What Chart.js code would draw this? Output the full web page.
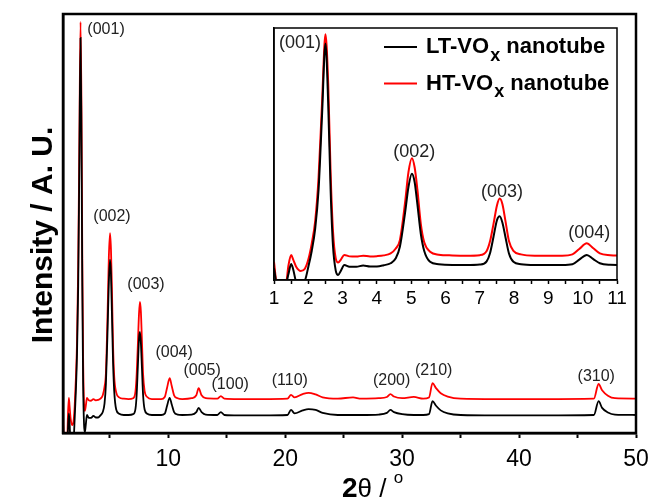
<!DOCTYPE html>
<html>
<head>
<meta charset="utf-8">
<script src="https://cdn.jsdelivr.net/npm/chart.js@4"></script>
<style>
  body { margin: 0; background: #fff; }
  #wrap { position: relative; width: 652px; height: 502px; }
  #inset { position: absolute; left: 255px; top: 15px; }
</style>
</head>
<body>
<div id="wrap">
  <canvas id="main" width="652" height="502"></canvas>
  <canvas id="inset" width="380" height="300"></canvas>
</div>
<script>
// 2theta (deg) and intensity (a.u.), HT curve includes its vertical offset
const twoTheta = [1.00, 1.08, 1.35, 1.42, 1.50, 1.56, 1.65, 1.78, 1.90, 2.00, 2.10, 2.20, 2.30, 2.40, 2.50, 2.58, 2.65, 2.72, 2.80, 2.87,
  2.95, 3.05, 3.20, 3.40, 3.60, 3.80, 4.00, 4.20, 4.40, 4.55, 4.67, 4.82, 4.92, 5.02, 5.10, 5.18, 5.28, 5.38, 5.55, 5.80,
  6.20, 6.60, 7.00, 7.20, 7.30, 7.40, 7.50, 7.58, 7.66, 7.75, 7.85, 7.98, 8.20, 8.60, 9.00, 9.40, 9.70, 9.90, 10.12, 10.30,
  10.50, 10.80, 11.20, 12.00, 12.40, 12.60, 12.85, 13.20, 14.20, 14.50, 14.80, 16.00, 18.00, 20.20, 20.50, 20.80, 21.50, 22.00, 22.60, 23.20,
  24.50, 25.80, 26.50, 28.00, 28.70, 29.00, 29.30, 30.00, 31.00, 31.80, 32.30, 32.60, 32.90, 33.30, 33.90, 35.00, 38.00, 42.00, 46.40, 46.80,
  47.10, 47.60, 48.20, 50.00];
const ltVox = [3.0, -3, -3, 0.5, 4.7, 2.5, -2.5, -3, -2, 3.5, 10, 19, 35, 65, 94.3, 70, 35, 12, 2, 0.2,
  2, 4.3, 3.6, 3.6, 4.1, 3.7, 3.7, 4.2, 5.0, 7.0, 11.7, 25.4, 36, 41.4, 38, 29, 17, 10, 5.6, 4.6,
  4.3, 4.3, 4.5, 5.8, 9.2, 15.8, 22.5, 24.1, 21.5, 15.5, 9.0, 5.6, 4.6, 4.3, 4.3, 4.3, 4.6, 6.5, 8.4, 6.8,
  5.0, 4.4, 4.3, 4.4, 5.0, 6.0, 5.0, 4.4, 4.3, 5.0, 4.3, 4.2, 4.2, 4.3, 5.5, 4.7, 5.4, 5.7, 5.5, 4.8,
  4.3, 4.3, 4.3, 4.4, 4.8, 5.5, 5.0, 4.5, 4.3, 4.3, 4.5, 7.6, 6.5, 5.4, 4.7, 4.3, 4.2, 4.2, 4.3, 7.6,
  6.0, 4.9, 4.4, 4.3];
const htVox = [5.6, -3, -3, 4.0, 8.4, 6.5, 3.5, 1.9, 2.8, 6.5, 13, 22, 40, 70, 98.1, 78, 42, 18, 7, 5.3,
  6.5, 8.4, 7.8, 7.7, 8.1, 7.8, 7.9, 8.2, 9.0, 11.0, 14.4, 29.5, 42, 47.7, 44, 35, 21, 13.5, 9.7, 8.5,
  8.2, 8.1, 8.3, 10, 14, 21, 28.5, 31.3, 29, 22, 14, 10, 8.6, 8.1, 8.1, 8.1, 8.6, 10.8, 13.1, 11.2,
  9.0, 8.3, 8.1, 8.3, 9.0, 10.7, 9.0, 8.3, 8.2, 8.8, 8.2, 8.1, 8.1, 8.2, 9.1, 8.5, 9.3, 9.6, 9.2, 8.5,
  8.2, 8.5, 8.2, 8.3, 8.6, 9.3, 8.7, 8.3, 8.6, 8.2, 8.5, 11.9, 10.7, 9.5, 8.7, 8.2, 8.1, 8.1, 8.2, 11.7,
  10.2, 8.9, 8.3, 8.2];

const mainTicks = [5, 10, 15, 20, 25, 30, 35, 40, 45, 50];
const insetTicks = [1, 1.5, 2, 2.5, 3, 3.5, 4, 4.5, 5, 5.5, 6, 6.5, 7, 7.5, 8, 8.5, 9, 9.5, 10, 10.5, 11];

const mainPeakNames = ["(001)", "(002)", "(003)", "(004)", "(005)", "(100)", "(110)", "(200)", "(210)", "(310)"];
const mainPeakX = [4.68, 5.19, 8.10, 10.5, 12.9, 15.3, 20.4, 29.1, 32.7, 46.6];
const mainPeakY = [96.2, 51.6, 35.3, 19.1, 14.8, 11.5, 12.6, 12.6, 14.8, 13.4];
const insetPeakNames = ["(001)", "(002)", "(003)", "(004)"];
const insetPeakX = [1.76, 5.09, 7.65, 10.19];
const insetPeakY = [94.5, 50.2, 34.0, 17.3];

const FONT = "'Liberation Sans', Arial, sans-serif";

function points(ys) {
  return twoTheta.map((x, i) => ({ x: x, y: ys[i] }));
}

function datasets(width) {
  return [
    { label: "LT-VOx nanotube", data: points(ltVox), borderColor: "#000", borderWidth: width, pointRadius: 0,
      cubicInterpolationMode: "monotone", tension: 0.4 },
    { label: "HT-VOx nanotube", data: points(htVox), borderColor: "#f00", borderWidth: width, pointRadius: 0,
      cubicInterpolationMode: "monotone", tension: 0.4 }
  ];
}

const frame = {
  id: "frame",
  afterDraw(chart, args, opts) {
    const a = chart.chartArea;
    const ctx = chart.ctx;
    ctx.save();
    ctx.strokeStyle = "#000";
    ctx.lineWidth = opts.width;
    ctx.strokeRect(a.left, a.top, a.right - a.left, a.bottom - a.top);
    ctx.restore();
  }
};

const peakLabels = {
  id: "peakLabels",
  afterDatasetsDraw(chart, args, opts) {
    const ctx = chart.ctx;
    ctx.save();
    ctx.font = opts.size + "px " + FONT;
    ctx.fillStyle = "#222";
    ctx.textAlign = "center";
    ctx.textBaseline = "middle";
    opts.names.forEach((t, i) => {
      ctx.fillText(t, chart.scales.x.getPixelForValue(opts.xs[i]), chart.scales.y.getPixelForValue(opts.ys[i]));
    });
    ctx.restore();
  }
};

const axisTitles = {
  id: "axisTitles",
  afterDraw(chart) {
    const ctx = chart.ctx;
    const a = chart.chartArea;
    ctx.save();
    ctx.fillStyle = "#000";
    // y title
    ctx.translate(a.left - 19, 235);
    ctx.rotate(-Math.PI / 2);
    ctx.font = "bold 30px " + FONT;
    ctx.textAlign = "center";
    ctx.textBaseline = "middle";
    ctx.fillText("Intensity / A. U.", 0, 0);
    ctx.restore();

    // x title: bold 2, theta, superscript degree
    ctx.save();
    ctx.fillStyle = "#000";
    ctx.textBaseline = "alphabetic";
    let x = 342;
    const y = 497;
    ctx.font = "bold 28px " + FONT;
    ctx.fillText("2", x, y);
    x += ctx.measureText("2").width;
    ctx.font = "26px " + FONT;
    ctx.fillText("\u03b8 / ", x, y);
    x += ctx.measureText("\u03b8 / ").width;
    ctx.font = "17px " + FONT;
    ctx.fillText("o", x, y - 14);
    ctx.restore();
  }
};

const legendBox = {
  id: "legendBox",
  afterDraw(chart) {
    const ctx = chart.ctx;
    ctx.save();
    chart.data.datasets.forEach((ds, i) => {
      const y = 32 + i * 36.5;
      ctx.strokeStyle = ds.borderColor;
      ctx.lineWidth = 2;
      ctx.beginPath();
      ctx.moveTo(129, y);
      ctx.lineTo(162, y);
      ctx.stroke();
      const parts = ds.label.split("x");
      let x = 171;
      ctx.fillStyle = "#000";
      ctx.textBaseline = "middle";
      ctx.font = "bold 22px " + FONT;
      ctx.fillText(parts[0], x, y);
      x += ctx.measureText(parts[0]).width + 1;
      ctx.font = "bold 18px " + FONT;
      ctx.fillText("x", x, y + 9);
      x += ctx.measureText("x").width;
      ctx.font = "bold 22px " + FONT;
      ctx.fillText(parts[1], x, y);
    });
    ctx.restore();
  }
};

new Chart(document.getElementById("main").getContext("2d"), {
  type: "line",
  data: { datasets: datasets(1.8) },
  options: {
    responsive: false,
    animation: false,
    layout: { padding: { left: 63, top: 14, right: 16, bottom: 0 } },
    plugins: {
      legend: { display: false },
      tooltip: { enabled: false },
      frame: { width: 2.5 },
      peakLabels: { names: mainPeakNames, xs: mainPeakX, ys: mainPeakY, size: 16 }
    },
    scales: {
      x: {
        type: "linear",
        min: 1,
        max: 50,
        afterBuildTicks: (s) => { s.ticks = mainTicks.map((v) => ({ value: v })); },
        afterFit: (s) => { s.height = 69; s.paddingLeft = 0; s.paddingRight = 0; },
        ticks: {
          callback: (v) => (v % 10 === 0 ? v : ""),
          font: { family: FONT, size: 23 },
          color: "#000",
          padding: 8,
          maxRotation: 0,
          autoSkip: false
        },
        grid: { drawOnChartArea: false, tickLength: 5, tickWidth: 2, tickColor: "#000" },
        border: { color: "#000", width: 2.5 }
      },
      y: {
        min: 0,
        max: 100,
        afterFit: (s) => { s.width = 0; },
        ticks: { display: false },
        grid: { drawOnChartArea: false, drawTicks: false },
        border: { color: "#000", width: 2.5 }
      }
    }
  },
  plugins: [frame, peakLabels, axisTitles]
});

new Chart(document.getElementById("inset").getContext("2d"), {
  type: "line",
  data: { datasets: datasets(2) },
  options: {
    responsive: false,
    animation: false,
    layout: { padding: { left: 19, top: 13, right: 18, bottom: 0 } },
    plugins: {
      legend: { display: false },
      tooltip: { enabled: false },
      frame: { width: 1.5 },
      peakLabels: { names: insetPeakNames, xs: insetPeakX, ys: insetPeakY, size: 18 }
    },
    scales: {
      x: {
        type: "linear",
        min: 1,
        max: 11,
        afterBuildTicks: (s) => { s.ticks = insetTicks.map((v) => ({ value: v })); },
        afterFit: (s) => { s.height = 35; s.paddingLeft = 0; s.paddingRight = 0; },
        ticks: {
          callback: (v) => (Number.isInteger(v) ? v : ""),
          font: { family: FONT, size: 19 },
          color: "#000",
          padding: 3,
          maxRotation: 0,
          autoSkip: false
        },
        grid: { drawOnChartArea: false, tickLength: 4, tickWidth: 1.5, tickColor: "#000" },
        border: { color: "#000", width: 1.5 }
      },
      y: {
        min: -1.8,
        max: 100.6,
        afterFit: (s) => { s.width = 0; },
        ticks: { display: false },
        grid: { drawOnChartArea: false, drawTicks: false },
        border: { color: "#000", width: 1.5 }
      }
    }
  },
  plugins: [frame, peakLabels, legendBox]
});
</script>
</body>
</html>
